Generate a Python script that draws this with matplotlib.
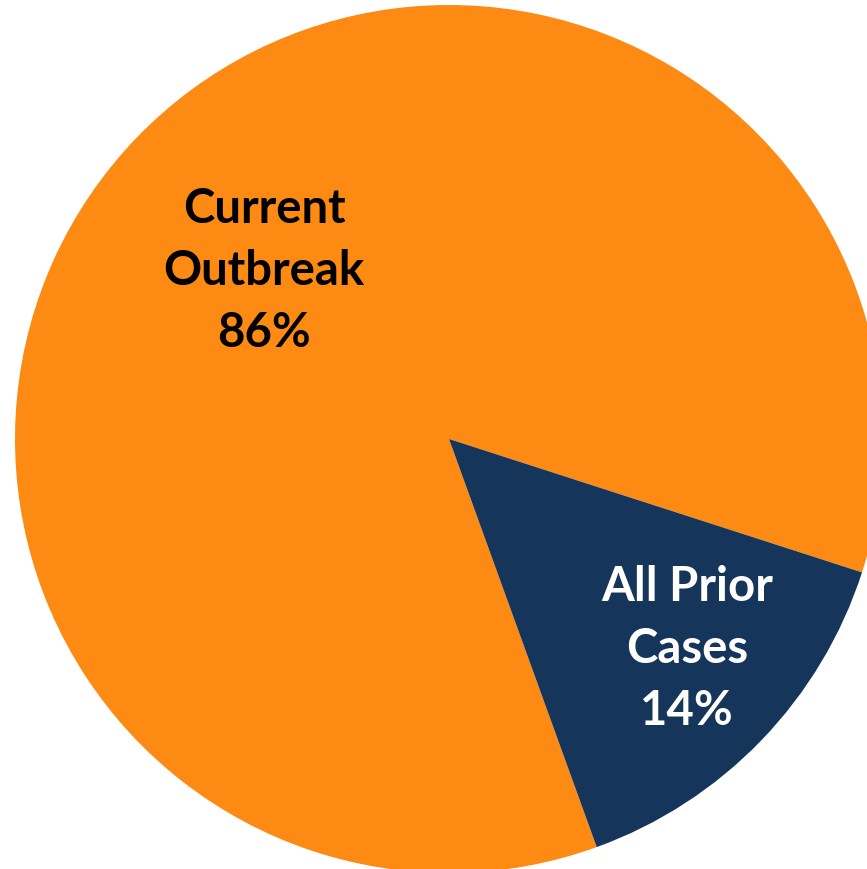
import matplotlib
matplotlib.use("Agg")
import matplotlib.pyplot as plt

# Data
categories = ["Current\nOutbreak", "All Prior\nCases"]
shares = [85.5, 14.5]
pct_labels = ["86%", "14%"]
colors = ["#FD8A13", "#15365A"]
text_colors = ["black", "white"]

W, H = 867, 869
fig = plt.figure(figsize=(W / 100, H / 100), dpi=100)
ax = fig.add_axes([0, 0, 1, 1])

cx, cy, r = 449, H - 439, 434
ax.pie(shares, colors=colors, startangle=-17.9, counterclock=True,
       center=(cx, cy), radius=r, wedgeprops=dict(linewidth=0))
ax.set_xlim(0, W)
ax.set_ylim(0, H)
ax.set_aspect("equal")
ax.axis("off")

label_pos = [(264, 271), (687, 649)]  # pixel positions (x, y from top)
for cat, pct, tc, (px, py) in zip(categories, pct_labels, text_colors, label_pos):
    ax.text(px, H - py, f"{cat}\n{pct}", ha="center", va="center",
            color=tc, fontsize=34, fontweight="bold", family="Lato",
            linespacing=1.5)

fig.savefig("out.png", dpi=100)
